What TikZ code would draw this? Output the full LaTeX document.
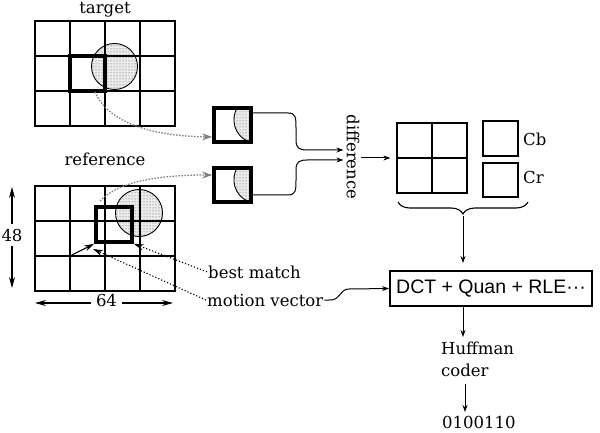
\documentclass[tikz,border=0pt]{standalone}
\usepackage{fontspec}
\setmainfont{DejaVu Serif}
\newfontfamily\sansf{Liberation Sans}
\usetikzlibrary{arrows.meta,patterns,decorations.pathreplacing,calc}
\begin{document}
\begin{tikzpicture}[x=1pt,y=-1pt,
  every node/.style={font=\fontsize{16.5}{22}\selectfont, inner sep=1pt},
  gridline/.style={line width=1.3pt},
  boldsq/.style={draw, line width=3.6pt, minimum width=35pt, minimum height=35pt, inner sep=0pt},
  smallbox/.style={draw, line width=3.6pt, minimum width=37pt, minimum height=34pt, inner sep=0pt},
  arr/.style={line width=1pt,-{Stealth[length=7pt,width=5pt]}},
  bigarr/.style={line width=1.1pt,-{Stealth[length=11pt,width=6pt]}},
  grayarr/.style={draw=gray, line width=1.3pt, dash pattern=on 1.5pt off 1.5pt, -{Stealth[length=10pt,width=7pt,fill=gray]}},
  ptr/.style={line width=1.1pt, dash pattern=on 1.2pt off 2pt, -{Stealth[length=10pt,width=6pt]}},
  dotfill/.style={fill=gray!15, postaction={pattern=dots, pattern color=black!70}},
]
\useasboundingbox (0,0) rectangle (600,433);

% ---------- target ----------
\node[anchor=base] (tlab) at (105,14) {target};
\fill[dotfill] (114.5,66.5) circle[radius=23];
\draw[line width=0.9pt] (114.5,66.5) circle[radius=23];
\node[draw, gridline, minimum width=140pt, minimum height=105pt, inner sep=0pt] (tgt) at (105,73.5) {};
\foreach \x in {70,105,140} \draw[gridline] (\x,21) -- (\x,126);
\foreach \y in {56,91} \draw[gridline] (35,\y) -- (175,\y);
\node[boldsq] (tsq) at (87.5,73.5) {};

% ---------- reference ----------
\node[anchor=base] (rlab) at (105,165) {reference};
\fill[dotfill] (139,213) circle[radius=23.5];
\draw[line width=0.9pt] (139,213) circle[radius=23.5];
\node[draw, gridline, minimum width=140pt, minimum height=105pt, inner sep=0pt] (ref) at (105,238.5) {};
\foreach \x in {70,105,140} \draw[gridline] (\x,186) -- (\x,291);
\foreach \y in {221,256} \draw[gridline] (35,\y) -- (175,\y);
\node[boldsq, minimum width=36pt] (rsq) at (114,224.5) {};

% dimension arrows
\node[inner sep=5pt] (n48) at (12,235) {48};
\coordinate (v1) at (12,187);
\coordinate (v2) at (12,288);
\draw[bigarr] (n48) -- (v1);
\draw[bigarr] (n48) -- (v2);
\node[inner sep=5pt] (n64) at (106.5,300) {64};
\coordinate (h1) at (35,303);
\coordinate (h2) at (173,303);
\draw[bigarr] (n64.west |- h1) -- (h1);
\draw[bigarr] (n64.east |- h2) -- (h2);

% motion vector arrow and labels
\coordinate (mvs) at (70,256);
\draw[line width=1.1pt,-{Stealth[length=10pt,width=6pt]}] (mvs) -- (rsq.south west);
\node[anchor=base west] (bm) at (207,278) {best match};
\node[anchor=base west] (mv) at (206,306) {motion vector};
\coordinate (mvtip) at (93,249);
\draw[ptr] (bm.west) -- (rsq.south east);
\draw[ptr] (mv.west) -- (mvtip);

% ---------- small blocks ----------
\node[smallbox] (b1) at (232.5,125) {};
\node[smallbox] (b2) at (232.5,185) {};
\path[dotfill] (237,108) .. controls (231,118) and (233,136) .. (250,142) -- (251,142) -- (251,108) -- cycle;
\draw[line width=0.9pt] (237,108) .. controls (231,118) and (233,136) .. (250,142);
\path[dotfill] (237,168) .. controls (231,178) and (233,196) .. (250,202) -- (251,202) -- (251,168) -- cycle;
\draw[line width=0.9pt] (237,168) .. controls (231,178) and (233,196) .. (250,202);
\node[smallbox, fill=none] at (b1) {};
\node[smallbox, fill=none] at (b2) {};

\coordinate (ts) at (95,92);
\coordinate (rs) at (100,201);
\draw[grayarr] (ts) .. controls (108,122) and (150,136) .. ([yshift=-12pt]b1.west);
\draw[grayarr] (rs) .. controls (116,184) and (150,175) .. ([yshift=10pt]b2.west);

% ---------- difference ----------
\node[rotate=-90] (diff) at (353,157) {difference};
\draw[arr, shorten >=2pt] ([yshift=12pt]b1.east) -- (288,113) .. controls (296,113) and (296,118) .. (296,128) -- (296,140) .. controls (296,148) and (299,150) .. (307,150) -- (diff.south |- 0,150);
\draw[arr, shorten >=2pt] ([yshift=-10pt]b2.east) -- (288,195) .. controls (296,195) and (296,190) .. (296,180) -- (296,170) .. controls (296,162) and (299,160) .. (307,160) -- (diff.south |- 0,160);

% ---------- Y / Cb / Cr blocks ----------
\node[draw, gridline, minimum size=70pt, inner sep=0pt] (yg) at (432,158) {};
\draw[gridline] (yg.north) -- (yg.south);
\draw[gridline] (yg.west) -- (yg.east);
\draw[arr, shorten >=6pt] (diff.north |- yg.west) -- (yg.west);
\node[draw, gridline, minimum width=35pt, minimum height=35pt, inner sep=0pt] (cb) at (500.5,138.5) {};
\node[draw, gridline, minimum width=35pt, minimum height=34pt, inner sep=0pt] (cr) at (500.5,180) {};
\node[anchor=west] (cbl) at (522,139) {Cb};
\node[anchor=west] (crl) at (522,177) {Cr};
\draw[decorate, decoration={brace, mirror, amplitude=12pt}, line width=1.1pt] (398,202) -- (528,202);
\coordinate (bt) at (463,216);

% ---------- DCT box ----------
\node[draw, line width=2pt, minimum width=202pt, minimum height=35pt, inner sep=2pt,
      font=\sansf\fontsize{19.5}{22}\selectfont] (dct) at (491,288.5) {DCT + Quan + RLE···};
\draw[arr, shorten >=7pt] (bt) -- (bt |- dct.north);
\draw[arr] (mv.east) -- ++(4,0) .. controls (341,301) and (339,289) .. (349,289) -- (dct.west);

% ---------- Huffman ----------
\node[align=left, anchor=west, inner sep=0pt] (huf) at (441,359) {Huffman\\coder};
\coordinate (hin) at (463,337);
\draw[arr] (dct.south -| hin) -- (hin);
\node[anchor=base west] (bits) at (441,428) {0100110};
\coordinate (o2) at (465,412);
\draw[arr, shorten <=7pt] (huf.south -| o2) -- (o2);
\end{tikzpicture}
\end{document}
